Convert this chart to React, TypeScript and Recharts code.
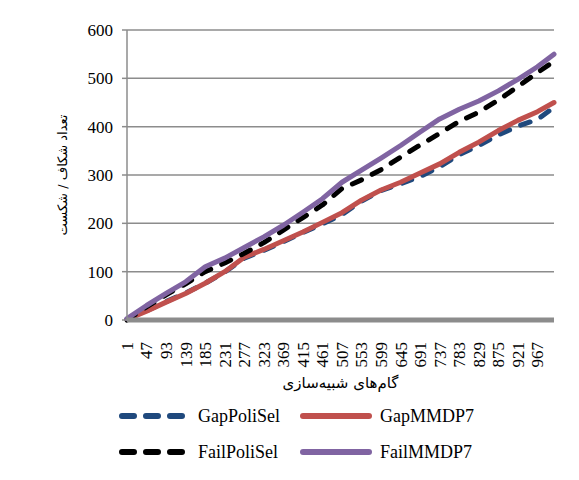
import { LineChart, Line, XAxis, YAxis, CartesianGrid, Label } from 'recharts'

const steps = [1, 47, 93, 139, 185, 231, 277, 323, 369, 415, 461, 507, 553, 599, 645, 691, 737, 783, 829, 875, 921, 967, 1006]
const gapPoliSel = [2, 19, 38, 56, 76, 99, 128, 144, 162, 181, 199, 218, 246, 268, 282, 297, 317, 342, 361, 383, 401, 415, 440]
const gapMMDP7 = [1, 18, 37, 55, 76, 100, 130, 146, 164, 182, 202, 222, 248, 269, 285, 304, 323, 347, 368, 392, 413, 431, 450]
const failPoliSel = [0, 27, 52, 75, 100, 118, 138, 160, 186, 212, 238, 272, 290, 311, 337, 362, 386, 411, 430, 455, 483, 512, 535]
const failMMDP7 = [3, 30, 55, 79, 110, 128, 150, 172, 196, 223, 251, 285, 310, 335, 361, 389, 416, 436, 453, 474, 498, 524, 550]

const xTicks = [1, 47, 93, 139, 185, 231, 277, 323, 369, 415, 461, 507, 553, 599, 645, 691, 737, 783, 829, 875, 921, 967]
const yTicks = [0, 100, 200, 300, 400, 500, 600]

const series = [
  { key: 'GapPoliSel', color: '#1F497D', dashed: true },
  { key: 'GapMMDP7', color: '#C0504D', dashed: false },
  { key: 'FailPoliSel', color: '#000000', dashed: true },
  { key: 'FailMMDP7', color: '#8064A2', dashed: false },
]

const data = steps.map((s, i) => ({
  step: s,
  GapPoliSel: gapPoliSel[i],
  GapMMDP7: gapMMDP7[i],
  FailPoliSel: failPoliSel[i],
  FailMMDP7: failMMDP7[i],
}))

const serif = 'Liberation Serif, DejaVu Serif, serif'
const persian = 'DejaVu Sans, sans-serif'

function XTick({ x, y, payload }: any) {
  return (
    <text
      x={x}
      y={y + 14}
      transform={`rotate(-90, ${x}, ${y + 14})`}
      textAnchor="end"
      dy="0.35em"
      fontSize={17}
      fontFamily={serif}
      fill="#000"
    >
      {payload.value}
    </text>
  )
}

function LegendKey({ color, dashed }: { color: string; dashed: boolean }) {
  return (
    <svg width={74} height={10} style={{ display: 'block' }}>
      <line
        x1={4}
        y1={5}
        x2={dashed ? 64 : 70}
        y2={5}
        stroke={color}
        strokeWidth={6}
        strokeLinecap="round"
        strokeDasharray={dashed ? '12 12' : undefined}
      />
    </svg>
  )
}

export default function App() {
  const legendPos = [
    { left: 110, top: 395, gap: 6 },
    { left: 291, top: 395, gap: 7 },
    { left: 110, top: 431, gap: 6 },
    { left: 291, top: 431, gap: 7 },
  ]
  return (
    <div
      style={{
        position: 'relative',
        width: 580,
        height: 480,
        border: '1px solid #8c8c8c',
        marginLeft: -1,
        marginTop: -1,
        background: '#fff',
      }}
    >
      <LineChart width={578} height={470} data={data} margin={{ top: 22, right: 32, left: 59, bottom: 98 }}>
        <CartesianGrid vertical={false} stroke="#8c8c8c" strokeWidth={1.5} />
        <XAxis
          dataKey="step"
          type="number"
          domain={[1, 1006]}
          ticks={xTicks}
          interval={0}
          height={60}
          tickLine={false}
          axisLine={{ stroke: '#8c8c8c', strokeWidth: 5 }}
          tick={<XTick />}
        >
          <Label
            content={({ viewBox }: any) => (
              <text
                x={viewBox.x + viewBox.width / 2}
                y={viewBox.y + 63}
                textAnchor="middle"
                dominantBaseline="central"
                fontSize={15}
                fontFamily={persian}
                fill="#000"
              >
                گام‌های شبیه‌سازی
              </text>
            )}
          />
        </XAxis>
        <YAxis
          type="number"
          domain={[0, 600]}
          ticks={yTicks}
          width={60}
          tickSize={5}
          tickMargin={9}
          tickLine={{ stroke: '#8c8c8c', strokeWidth: 1.5 }}
          axisLine={{ stroke: '#8c8c8c', strokeWidth: 1.5 }}
          tick={{ fontSize: 17, fontFamily: serif, fill: '#000' }}
        >
          <Label
            content={({ viewBox }: any) => {
              const cx = viewBox.x - 5
              const cy = viewBox.y + viewBox.height / 2
              return (
                <text
                  x={cx}
                  y={cy}
                  transform={`rotate(-90, ${cx}, ${cy})`}
                  textAnchor="middle"
                  dominantBaseline="central"
                  fontSize={13}
                  fontFamily={persian}
                  fill="#000"
                >
                  تعداد شکاف / شکست
                </text>
              )
            }}
          />
        </YAxis>
        {series.map((s) => (
          <Line
            key={s.key}
            type="linear"
            dataKey={s.key}
            stroke={s.color}
            strokeWidth={5}
            strokeLinecap="round"
            strokeLinejoin="round"
            strokeDasharray={s.dashed ? '10 12' : undefined}
            dot={false}
            activeDot={false}
            isAnimationActive={false}
          />
        ))}
      </LineChart>
      {series.map((s, i) => (
        <div
          key={s.key}
          style={{
            position: 'absolute',
            left: legendPos[i].left,
            top: legendPos[i].top,
            display: 'flex',
            alignItems: 'center',
            gap: legendPos[i].gap,
            fontFamily: serif,
            fontSize: 18,
            color: '#000',
            lineHeight: '26px',
          }}
        >
          <LegendKey color={s.color} dashed={s.dashed} />
          <span>{s.key}</span>
        </div>
      ))}
    </div>
  )
}
